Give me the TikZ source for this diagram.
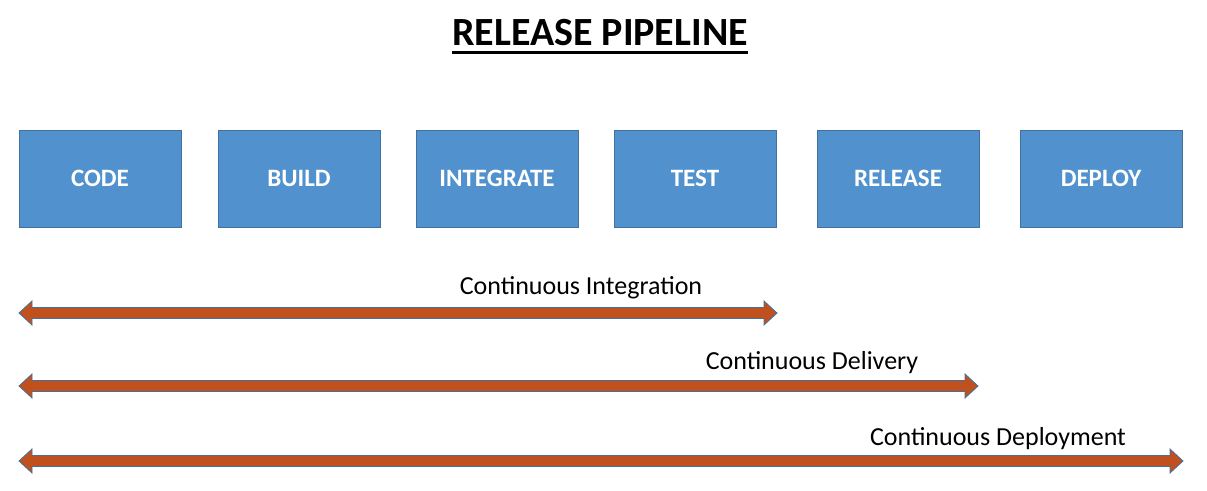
\documentclass[tikz,border=0pt]{standalone}
\usepackage{fontspec}
\setmainfont{Carlito}
\usetikzlibrary{calc}
\definecolor{boxblue}{RGB}{81,146,206}
\definecolor{boxedge}{RGB}{65,113,156}
\definecolor{arrowfill}{RGB}{192,81,30}
\definecolor{arrowedge}{RGB}{65,113,156}
\newcommand\pipearrow[2]{\draw[spanarrow] (#1) -- ($(#1)+(13,-12)$) -- ($(#1)+(13,-5.5)$) -- ($(#2)+(-13,-5.5)$) -- ($(#2)+(-13,-12)$) -- (#2) -- ($(#2)+(-13,12)$) -- ($(#2)+(-13,5.5)$) -- ($(#1)+(13,5.5)$) -- ($(#1)+(13,12)$) -- cycle;}
\begin{document}
\begin{tikzpicture}[x=1pt,y=-1pt,
  stage/.style={draw=boxedge, line width=0.8pt, fill=boxblue, minimum width=162pt, minimum height=97pt, inner sep=0pt, text=white, font=\fontsize{25}{30}\selectfont\bfseries},
  lbl/.style={anchor=base, font=\fontsize{26}{31}\selectfont, inner sep=0pt},
  spanarrow/.style={draw=arrowedge, line width=0.8pt, fill=arrowfill, line join=miter}]
\useasboundingbox (0,0) rectangle (1207,490);
\node[anchor=base, inner sep=0pt, font=\fontsize{40}{46}\selectfont\bfseries] (title) at (600,45.5) {RELEASE PIPELINE};
\draw[line width=3pt] ($(title.base west)+(0,7)$) -- ($(title.base east)+(0,7)$);
\node[stage] (code) at (100,178.5) {CODE};
\node[stage] (build) at (299,178.5) {BUILD};
\node[stage] (integrate) at (497,178.5) {INTEGRATE};
\node[stage] (test) at (695,178.5) {TEST};
\node[stage] (release) at (898,178.5) {RELEASE};
\node[stage] (deploy) at (1101,178.5) {DEPLOY};
\coordinate (ci-l) at (19,313);
\coordinate (ci-r) at (777,313);
\coordinate (cd-l) at (19,386);
\coordinate (cd-r) at (978,386);
\coordinate (cp-l) at (19,461);
\coordinate (cp-r) at (1183,461);
\pipearrow{ci-l}{ci-r}
\pipearrow{cd-l}{cd-r}
\pipearrow{cp-l}{cp-r}
\node[lbl] (cilbl) at (581,294) {Continuous Integration};
\node[lbl] (cdlbl) at (812,369) {Continuous Delivery};
\node[lbl] (cplbl) at (998,445) {Continuous Deployment};
\end{tikzpicture}
\end{document}
